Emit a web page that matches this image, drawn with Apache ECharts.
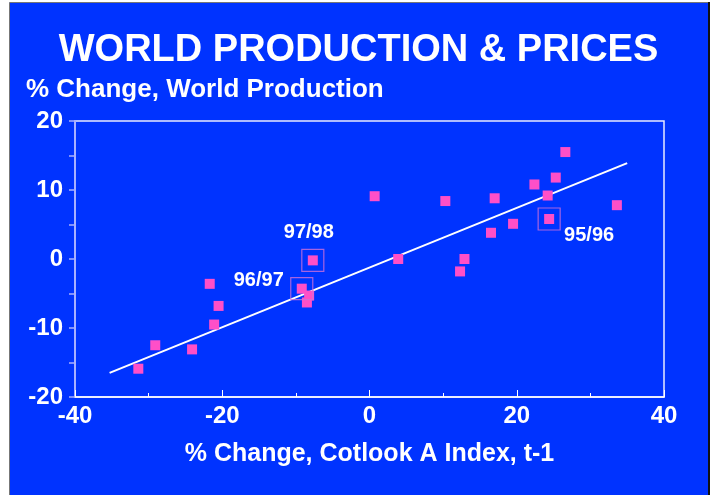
<!DOCTYPE html>
<html>
<head>
<meta charset="utf-8">
<title>World Production & Prices</title>
<script src="https://cdn.jsdelivr.net/npm/echarts@6/dist/echarts.min.js"></script>
<style>
  html, body { margin: 0; padding: 0; background: #fff; }
  #main { width: 717px; height: 495px; }
</style>
</head>
<body>
<div id="main"></div>
<script>
// % change in Cotlook A index (t-1) vs % change in world production
var priceChange = [-31.4, -29.1, -24.1, -21.7, -20.5, -21.1, -9.2, -8.2, -8.5, -7.7,
                   0.7, 3.9, 10.3, 12.9, 12.3, 17.0, 16.5, 19.5, 22.4, 24.2, 25.3, 26.6, 24.4, 33.6];
var prodChange  = [-15.9, -12.5, -13.1, -3.6, -6.8, -9.5, -4.3, -5.3, -6.3, -0.2,
                   9.1, 0.0, 8.4, 0.0, -1.8, 8.8, 3.8, 5.1, 10.8, 9.2, 11.8, 15.5, 5.8, 7.8];

// highlighted seasons
var seasonLabels = ['97/98', '96/97', '95/96'];
var seasonX = [-7.7, -9.2, 24.4];
var seasonY = [-0.2, -4.3, 5.8];

// fitted trend line end points
var trendX = [-35.3, 35.0];
var trendY = [-16.5, 13.9];

var xTicks = ['-40', '-20', '0', '20', '40'];
var yTicks = ['-20', '-10', '0', '10', '20'];

var blue = '#0033ff';
var pink = '#ff4fc8';
var lav = '#a8b0ff';
var font = '"Liberation Sans", Arial, sans-serif';

var labelOffsets = [[-4, -28], [-43, -8], [40, 17]];

var myChart = echarts.init(document.getElementById('main'));

var points = priceChange.map(function (x, i) { return [x, prodChange[i]]; });
var boxes = seasonX.map(function (x, i) { return [x, seasonY[i]]; });
var tags = seasonX.map(function (x, i) {
    return {
        value: [x, seasonY[i]],
        label: { offset: labelOffsets[i], formatter: seasonLabels[i] }
    };
});
var trend = trendX.map(function (x, i) { return [x, trendY[i]]; });

var option = {
    backgroundColor: '#fff',
    animation: false,
    graphic: [
        {
            type: 'rect',
            shape: { x: 9.5, y: 2.5, width: 699, height: 500 },
            style: { fill: blue, stroke: '#777', lineWidth: 1 },
            z: -10
        },
        {
            type: 'line',
            shape: { x1: 709, y1: 2, x2: 709, y2: 495 },
            style: { stroke: '#111', lineWidth: 2 },
            z: -9
        }
    ],
    title: [
        {
            text: 'WORLD PRODUCTION & PRICES',
            left: 'center',
            top: 27,
            textStyle: { color: '#fff', fontFamily: font, fontWeight: 'bold', fontSize: 38 }
        },
        {
            text: '% Change, World Production',
            left: 21,
            top: 72,
            textStyle: { color: '#fff', fontFamily: font, fontWeight: 'bold', fontSize: 26 }
        }
    ],
    grid: {
        left: 75,
        right: 53,
        top: 121,
        bottom: 98,
        show: true,
        borderColor: '#e8eaff',
        borderWidth: 1.5
    },
    xAxis: {
        type: 'value',
        min: -40,
        max: 40,
        interval: 20,
        name: '% Change, Cotlook A Index, t-1',
        nameLocation: 'middle',
        nameGap: 45,
        nameTextStyle: { color: '#fff', fontFamily: font, fontWeight: 'bold', fontSize: 25 },
        axisLine: { onZero: false, lineStyle: { color: '#fff', width: 1.5 } },
        axisTick: { inside: true, length: 7, lineStyle: { color: '#fff' } },
        minorTick: { show: true, splitNumber: 2, length: 4, lineStyle: { color: '#fff' } },
        splitLine: { show: false },
        axisLabel: {
            color: '#fff', fontFamily: font, fontWeight: 'bold', fontSize: 24, margin: 7,
            formatter: function (v) { return xTicks[(v + 40) / 20]; }
        }
    },
    yAxis: {
        type: 'value',
        min: -20,
        max: 20,
        interval: 10,
        axisLine: { show: true, onZero: false, lineStyle: { color: lav, width: 2 } },
        axisTick: { show: true, length: 6, lineStyle: { color: lav, width: 1.5 } },
        minorTick: { show: true, splitNumber: 2, length: 6, lineStyle: { color: lav, width: 1.5 } },
        splitLine: { show: false },
        axisLabel: {
            color: '#fff', fontFamily: font, fontWeight: 'bold', fontSize: 24, margin: 12,
            formatter: function (v) { return yTicks[(v + 20) / 10]; }
        }
    },
    series: [
        {
            type: 'line',
            data: trend,
            symbol: 'none',
            lineStyle: { color: '#fff', width: 2 },
            z: 2
        },
        {
            type: 'scatter',
            data: points,
            symbol: 'rect',
            symbolSize: 10,
            itemStyle: { color: pink, opacity: 1 },
            z: 3
        },
        {
            type: 'scatter',
            data: boxes,
            symbol: 'rect',
            symbolSize: 22,
            itemStyle: { color: 'transparent', borderColor: '#d070d8', borderWidth: 1.2 },
            z: 4
        },
        {
            type: 'scatter',
            data: tags,
            symbolSize: 1,
            itemStyle: { color: blue, opacity: 0 },
            label: {
                show: true,
                position: 'inside',
                color: '#ffffff',
                opacity: 1,
                fontFamily: font,
                fontWeight: 'bold',
                fontSize: 20
            },
            z: 5
        }
    ]
};

myChart.setOption(option);
</script>
</body>
</html>
